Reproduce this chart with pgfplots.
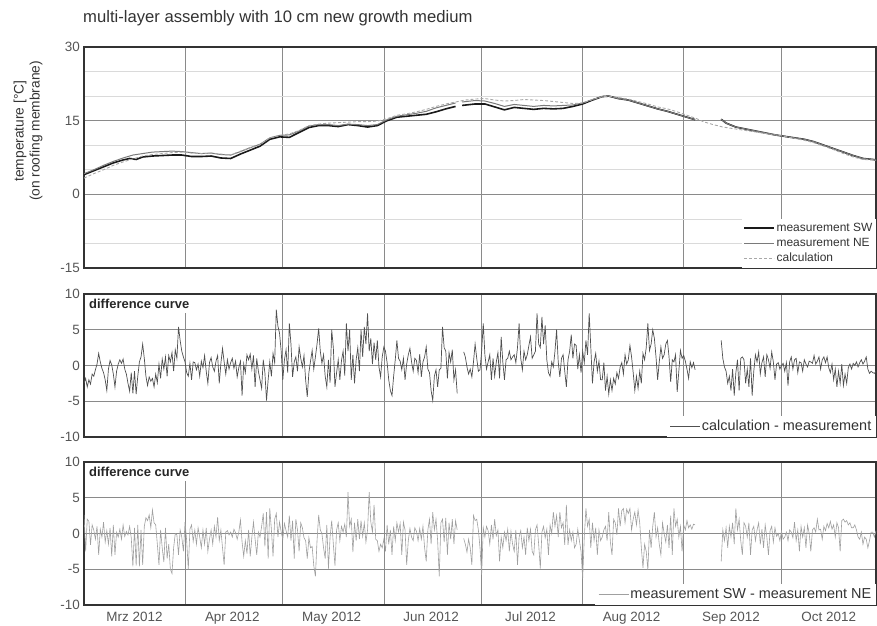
\documentclass[border=0pt]{standalone}
\usepackage{fontspec}
\setmainfont{Liberation Sans}
\usepackage{pgfplots}
\pgfplotsset{compat=1.18}
\definecolor{framec}{HTML}{333333}
\definecolor{gridc}{HTML}{8A8A8A}
\definecolor{minorc}{HTML}{DADADA}
\definecolor{ticktext}{HTML}{555555}
\definecolor{swc}{HTML}{1A1A1A}
\definecolor{nec}{HTML}{7A7A7A}
\definecolor{calcc}{HTML}{A8A8A8}
\definecolor{d1c}{HTML}{505050}
\definecolor{d2c}{HTML}{A0A0A0}
\pgfplotsset{
 panel/.style={
  scale only axis, width=792bp, anchor=south west,
  xmin=0, xmax=243,
  axis line style={draw=framec, line width=1.5bp},
  xtick={31,61,92,122,153,184,214}, xticklabels={},
  xmajorgrids, ymajorgrids,
  major grid style={draw=gridc, line width=0.7bp},
  major tick length=0pt, minor tick length=0pt,
  yticklabel style={font=\fontsize{13.5}{13.5}\selectfont, text=ticktext, inner sep=0pt, xshift=-4bp},
  /pgf/number format/assume math mode=true,
  unbounded coords=jump,
  legend cell align=left,
  legend image code/.code={\draw[##1] (0bp,0bp) -- (30bp,0bp);},
 },
}
\tikzset{difflabel/.style={anchor=north west, fill=white, font=\bfseries\fontsize{13}{13}\selectfont, text=black!85, inner sep=4bp, xshift=1bp, yshift=-1bp}}
\begin{document}
\begin{tikzpicture}
\useasboundingbox (0,0) rectangle (877bp,626bp);
\node[anchor=west, font=\fontsize{16.7}{16.7}\selectfont, text=black!80, inner sep=0pt] at (83bp,608bp) {multi-layer assembly with 10 cm new growth medium};
\node[rotate=90, align=center, font=\fontsize{13.8}{16}\selectfont, text=black!80] at (28bp,495bp) {temperature [°C]\\(on roofing membrane)};
% ---------------- top panel
\begin{axis}[panel, at={(84bp,358bp)}, height=221bp,
  ymin=-15, ymax=30, ytick={-15,0,15,30},
  minor ytick={-10,-5,5,10,20,25}, yminorgrids,
  minor grid style={draw=minorc, line width=0.6bp},
  legend style={at={(1,0)}, anchor=south east, draw=none, fill=white,
    font=\fontsize{12}{12}\selectfont, text=black!80, inner sep=2bp,
    nodes={inner sep=1.5bp, text height=9bp, text depth=3bp}},
]
\addplot[swc, line width=1.6bp] coordinates {(0,4.0)(3,4.8)(6,5.6)(9,6.4)(12,7.0)(14,7.3)(16,7.1)(18,7.6)(21,7.8)(24,7.9)(27,8.0)(30,8.0)(33,7.7)(36,7.7)(39,7.8)(42,7.4)(45,7.3)(48,8.2)(51,9.0)(54,9.8)(57,11.2)(60,11.7)(63,11.6)(66,12.6)(69,13.6)(72,14.0)(75,14.0)(78,13.8)(81,14.2)(84,14.0)(87,13.7)(90,14.0)(93,15.0)(96,15.7)(99,15.9)(102,16.1)(105,16.3)(108,16.8)(111,17.4)(114,17.9)(115,nan)(116,18.1)(120,18.4)(123,18.4)(126,17.8)(129,17.2)(132,17.7)(135,17.5)(138,17.3)(141,17.5)(144,17.4)(147,17.5)(150,17.9)(153,18.4)(156,19.2)(159,19.9)(161,20.0)(164,19.5)(167,19.2)(170,18.6)(173,18.0)(176,17.4)(179,16.9)(182,16.3)(185,15.7)(187.5,15.2)(190,nan)(195.5,15.3)(197,14.5)(200,13.7)(203,13.3)(206,12.9)(209,12.5)(212,12.1)(215,11.8)(218,11.5)(221,11.2)(224,10.7)(227,10.0)(230,9.3)(233,8.6)(236,7.9)(239,7.3)(242,7.1)(243,7.0)};
\addlegendentry{measurement SW}
\addplot[nec, line width=1bp] coordinates {(0,4.2)(3,5.0)(6,5.9)(9,6.7)(12,7.4)(15,8.0)(18,8.3)(21,8.6)(24,8.7)(27,8.8)(30,8.7)(33,8.5)(36,8.3)(39,8.4)(42,8.1)(45,8.0)(48,8.7)(51,9.5)(54,10.2)(57,11.5)(60,12.0)(63,12.1)(66,12.9)(69,13.9)(72,14.2)(75,14.2)(78,14.0)(81,14.3)(84,14.2)(87,14.0)(90,14.2)(93,15.2)(96,15.9)(99,16.2)(102,16.5)(105,16.9)(108,17.6)(111,18.1)(114,18.6)(115,nan)(116,18.8)(120,19.1)(123,19.0)(126,18.5)(129,17.9)(132,18.3)(135,18.1)(138,17.9)(141,18.1)(144,18.0)(147,18.1)(150,18.2)(153,18.6)(156,19.3)(159,19.9)(161,20.0)(164,19.5)(167,19.2)(170,18.6)(173,18.0)(176,17.4)(179,16.9)(182,16.3)(185,15.7)(187.5,15.2)(190,nan)(195.5,15.3)(197,14.5)(200,13.7)(203,13.3)(206,12.9)(209,12.5)(212,12.1)(215,11.8)(218,11.5)(221,11.2)(224,10.7)(227,10.0)(230,9.3)(233,8.6)(236,7.9)(239,7.3)(242,7.1)(243,7.0)};
\addlegendentry{measurement NE}
\addplot[calcc, line width=0.9bp, dash pattern=on 3bp off 2bp] coordinates {(0,3.3)(3,4.2)(6,5.0)(9,5.9)(12,6.6)(15,7.2)(18,7.8)(21,8.1)(24,8.3)(27,8.5)(30,8.6)(33,8.4)(36,8.3)(39,8.4)(42,8.2)(45,8.0)(48,8.8)(51,9.5)(54,10.1)(57,11.5)(60,12.0)(63,12.3)(66,13.0)(69,14.0)(72,14.3)(75,14.5)(78,14.6)(81,14.7)(84,14.8)(87,14.8)(90,14.9)(93,15.4)(96,16.1)(99,16.4)(102,16.8)(105,17.3)(108,17.9)(111,18.4)(114,18.8)(117,19.2)(120,19.4)(123,19.5)(126,19.2)(129,19.0)(132,19.1)(135,19.3)(138,19.2)(141,19.1)(144,18.9)(147,18.7)(150,18.5)(153,18.6)(156,19.3)(159,19.9)(161,20.0)(164,19.7)(167,19.4)(170,18.9)(173,18.4)(176,17.8)(179,17.4)(182,16.8)(185,16.1)(188,15.4)(190,14.8)(193,14.2)(196,13.7)(200,13.3)(203,13.0)(206,12.7)(209,12.4)(212,12.1)(215,11.8)(218,11.4)(221,11.0)(224,10.5)(227,9.8)(230,9.1)(233,8.3)(236,7.6)(239,7.1)(242,7.0)(243,6.9)};
\addlegendentry{calculation}
\end{axis}
% ---------------- middle panel
\begin{axis}[panel, at={(84bp,189bp)}, height=143bp,
  ymin=-10, ymax=10, ytick={-10,-5,0,5,10},
  legend style={at={(1,0)}, anchor=south east, draw=none, fill=white,
    font=\fontsize{14.5}{14.5}\selectfont, text=black!80, inner sep=3bp,
    nodes={inner sep=1.5bp}},
]
\addplot[d1c, line width=0.7bp] coordinates {
(0,-2.5)(0.5,-1.8)(1,-3.0)(1.5,-2.0)(2,-2.6)(2.5,-1.2)(3,-1.5)(3.5,-0.6)(4,0.2)(4.5,1.7)
(5,0.5)(5.5,-0.4)(6,-1.0)(6.5,-2.0)(7,-3.5)(7.5,-0.5)(8,0.7)(8.5,0.1)(9,-1.2)(9.5,-3.0)
(10,-0.8)(10.5,0.2)(11,0.8)(11.5,0.3)(12,0.9)(12.5,-0.5)(13,-1.2)(13.5,-2.5)(14,-3.6)(14.5,-1.0)
(15,-3.9)(15.5,-0.8)(16,-4.0)(16.5,-1.5)(17,0.5)(17.5,1.2)(18,3.0)(18.5,1.0)(19,-1.5)(19.5,-2.8)
(20,-1.6)(20.5,-2.2)(21,-1.8)(21.5,-3.0)(22,-1.2)(22.5,-2.4)(23,0.2)(23.5,-1.8)(24,0.9)(24.5,-0.5)
(25,1.2)(25.5,-1.5)(26,1.4)(26.5,0.5)(27,1.8)(27.5,-0.8)(28,2.2)(28.5,1.0)(29,5.4)(29.5,3.5)
(30,2.0)(30.5,1.2)(31,0.5)(31.5,-1.0)(32,-1.5)(32.5,0.3)(33,-2.0)(33.5,0.5)(34,0.4)(34.5,-0.6)
(35,0.2)(35.5,-1.5)(36,0.6)(36.5,-0.3)(37,1.4)(37.5,-0.8)(38,-2.5)(38.5,0.4)(39,1.1)(39.5,-0.2)
(40,-0.8)(40.5,0.6)(41,1.4)(41.5,-2.5)(42,0.3)(42.5,2.4)(43,0.5)(43.5,-1.2)(44,0.8)(44.5,-0.5)
(45,0.4)(45.5,1.0)(46,-0.4)(46.5,0.6)(47,-1.6)(47.5,-0.3)(48,0.6)(48.5,-4.2)(49,0.2)(49.5,-1.0)
(50,1.5)(50.5,0.8)(51,1.6)(51.5,-0.5)(52,1.4)(52.5,-3.0)(53,1.0)(53.5,-0.8)(54,-2.0)(54.5,-3.2)
(55,0.8)(55.5,-1.0)(56,-4.9)(56.5,-2.0)(57,0.5)(57.5,-1.5)(58,1.7)(58.5,0.4)(59,7.8)(59.5,5.5)
(60,4.5)(60.5,2.0)(61,-2.0)(61.5,0.8)(62,2.2)(62.5,-1.0)(63,5.9)(63.5,3.0)(64,-1.6)(64.5,0.5)
(65,1.2)(65.5,-0.8)(66,2.6)(66.5,1.0)(67,-0.2)(67.5,1.4)(68,-2.0)(68.5,-4.4)(69,-1.0)(69.5,0.6)
(70,2.1)(70.5,-0.5)(71,1.2)(71.5,3.0)(72,5.2)(72.5,2.0)(73,0.3)(73.5,1.5)(74,-1.5)(74.5,-3.0)
(75,0.8)(75.5,-2.4)(76,5.0)(76.5,2.5)(77,-3.0)(77.5,-1.0)(78,0.8)(78.5,-2.0)(79,0.7)(79.5,2.0)
(80,-1.4)(80.5,5.9)(81,2.0)(81.5,5.0)(82,-2.0)(82.5,1.5)(83,-2.5)(83.5,0.8)(84,2.5)(84.5,-0.8)
(85,5.0)(85.5,1.2)(86,5.4)(86.5,3.0)(87,7.3)(87.5,2.0)(88,3.8)(88.5,0.2)(89,3.2)(89.5,0.8)
(90,3.5)(90.5,-0.2)(91,-1.6)(91.5,1.2)(92,2.6)(92.5,2.0)(93,0.4)(93.5,-2.0)(94,-3.5)(94.5,-4.2)
(95,-1.5)(95.5,0.8)(96,3.5)(96.5,1.0)(97,0.6)(97.5,-0.6)(98,1.0)(98.5,-2.0)(99,0.2)(99.5,1.5)
(100,2.4)(100.5,0.5)(101,-0.8)(101.5,1.0)(102,0.7)(102.5,-1.0)(103,1.6)(103.5,-1.6)(104,0.5)(104.5,1.2)
(105,2.6)(105.5,-0.5)(106,-1.0)(106.5,-3.5)(107,-4.9)(107.5,-1.5)(108,-0.6)(108.5,-3.0)(109,-0.6)(109.5,-0.4)
(110,5.4)(110.5,2.5)(111,2.0)(111.5,-1.8)(112,1.8)(112.5,0.5)(113,2.2)(113.5,-2.0)(114,-0.6)(114.5,-3.9)
(115,nan)(116.5,1.9)(117,1.2)(117.5,-0.2)(118,-1.2)(118.5,-0.5)(119,-1.6)(119.5,0.5)
(120,3.0)(120.5,1.0)(121,-0.8)(121.5,-0.6)(122,2.0)(122.5,5.9)(123,1.5)(123.5,-0.5)(124,0.5)(124.5,1.5)
(125,-2.0)(125.5,1.0)(126,-1.5)(126.5,0.5)(127,1.8)(127.5,-1.8)(128,4.0)(128.5,0.5)(129,-2.0)(129.5,0.8)
(130,1.0)(130.5,2.0)(131,0.8)(131.5,1.2)(132,1.5)(132.5,0.4)(133,2.5)(133.5,5.9)(134,1.0)(134.5,-0.6)
(135,2.0)(135.5,0.8)(136,1.5)(136.5,2.8)(137,4.0)(137.5,1.0)(138,1.5)(138.5,2.0)(139,7.3)(139.5,3.0)
(140,2.5)(140.5,6.8)(141,3.0)(141.5,5.6)(142,0.8)(142.5,-1.0)(143,-1.5)(143.5,0.5)(144,-0.2)(144.5,2.0)
(145,5.0)(145.5,0.5)(146,-1.6)(146.5,1.0)(147,1.5)(147.5,-0.8)(148,-3.0)(148.5,0.8)(149,2.0)(149.5,4.3)
(150,1.0)(150.5,3.0)(151,2.8)(151.5,-0.5)(152,1.5)(152.5,-1.0)(153,2.0)(153.5,0.4)(154,3.5)(154.5,1.5)
(155,7.3)(155.5,2.5)(156,-2.5)(156.5,0.5)(157,1.7)(157.5,-0.8)(158,0.6)(158.5,-2.0)(159,-2.0)(159.5,0.4)
(160,-3.5)(160.5,-1.5)(161,-4.0)(161.5,-2.0)(162,-3.5)(162.5,-1.8)(163,-2.6)(163.5,-1.0)(164,-1.8)(164.5,-0.2)
(165,0.4)(165.5,-1.2)(166,1.5)(166.5,0.2)(167,0.8)(167.5,2.8)(168,1.2)(168.5,-1.0)(169,-3.5)(169.5,-1.5)
(170,-3.2)(170.5,-0.8)(171,-2.5)(171.5,1.7)(172,0.8)(172.5,2.5)(173,5.9)(173.5,2.1)(174,3.0)(174.5,5.0)
(175,3.8)(175.5,1.2)(176,-2.0)(176.5,0.5)(177,2.6)(177.5,1.0)(178,1.5)(178.5,3.0)(179,3.5)(179.5,1.2)
(180,-2.3)(180.5,0.8)(181,0.5)(181.5,1.5)(182,-3.7)(182.5,-0.8)(183,2.1)(183.5,1.0)(184,1.4)(184.5,0.6)
(185,-0.5)(185.5,-1.8)(186,0.5)(186.5,-0.3)(187,0.4)(187.5,-0.6)
(190,nan)(195.5,3.5)(196,1.0)(196.5,-0.2)(197,-0.8)(197.5,-2.5)(198,-1.5)(198.5,-3.5)(199,-0.5)(199.5,-4.2)
(200,-1.0)(200.5,0.8)(201,-3.5)(201.5,1.0)(202,1.2)(202.5,0.8)(203,-2.5)(203.5,-0.5)(204,-3.0)(204.5,1.0)
(205,-4.2)(205.5,-0.8)(206,1.5)(206.5,0.5)(207,1.9)(207.5,-1.2)(208,0.4)(208.5,1.2)(209,-1.6)(209.5,1.5)
(210,0.8)(210.5,-0.4)(211,1.9)(211.5,0.5)(212,-2.0)(212.5,0.2)(213,0.4)(213.5,-0.5)(214,0.0)(214.5,0.3)
(215,-0.8)(215.5,0.4)(216,-2.8)(216.5,0.5)(217,1.2)(217.5,-0.5)(218,0.8)(218.5,1.0)(219,-1.0)(219.5,0.5)
(220,0.4)(220.5,-0.8)(221,0.8)(221.5,0.2)(222,-0.2)(222.5,0.6)(223,0.5)(223.5,0.3)(224,1.4)(224.5,0.2)
(225,0.6)(225.5,1.2)(226,-0.5)(226.5,0.8)(227,1.2)(227.5,0.4)(228,1.2)(228.5,-0.3)(229,-1.0)(229.5,0.2)
(230,-2.0)(230.5,-0.5)(231,-3.0)(231.5,-0.8)(232,-2.5)(232.5,0.2)(233,-2.8)(233.5,-1.2)(234,-2.5)(234.5,-0.3)
(235,0.2)(235.5,-0.5)(236,0.3)(236.5,0.0)(237,0.5)(237.5,-0.2)(238,0.4)(238.5,0.8)(239,0.2)(239.5,0.6)
(240,1.2)(240.5,-0.5)(241,-1.1)(241.5,-0.8)(242,-1.0)(242.5,-1.1)(243,-0.8)};
\addlegendentry{calculation - measurement}
\node[difflabel] at (rel axis cs:0,1) {difference curve};
\end{axis}
% ---------------- bottom panel
\begin{axis}[panel, at={(84bp,21bp)}, height=143bp,
  ymin=-10, ymax=10, ytick={-10,-5,0,5,10},
  extra x ticks={15.5,45.5,76,106.5,137,168,198.5,228.5},
  extra x tick labels={Mrz 2012,Apr 2012,May 2012,Jun 2012,Jul 2012,Aug 2012,Sep 2012,Oct 2012},
  extra x tick style={grid=none},
  xticklabel style={font=\fontsize{13.5}{13.5}\selectfont, text=ticktext, inner sep=0pt, yshift=-7bp},
  legend style={at={(1,0)}, anchor=south east, draw=none, fill=white,
    font=\fontsize{14.5}{14.5}\selectfont, text=black!80, inner sep=3bp,
    nodes={inner sep=1.5bp}},
]
\addplot[d2c, line width=0.6bp] coordinates {
(0,2.6)(0.5,-2.5)(1,2.0)(1.5,1.7)(2,-1.6)(2.5,1.2)(3,0.5)(3.5,-0.8)(4,1.0)(4.5,-3.0)
(5,0.6)(5.5,-0.5)(6,1.6)(6.5,-1.2)(7,0.4)(7.5,-1.5)(8,0.8)(8.5,-3.2)(9,1.2)(9.5,-3.0)
(10,0.2)(10.5,-0.5)(11,0.6)(11.5,-0.8)(12,1.2)(12.5,-0.4)(13,0.3)(13.5,-0.2)(14,1.0)(14.5,-0.6)
(15,-4.6)(15.5,0.8)(16,-4.5)(16.5,1.2)(17,-4.6)(17.5,0.5)(18,-4.4)(18.5,1.0)(19,2.2)(19.5,1.8)
(20,2.6)(20.5,0.8)(21,3.3)(21.5,1.5)(22,1.2)(22.5,-1.5)(23,-4.4)(23.5,0.5)(24,-2.0)(24.5,-4.0)
(25,0.8)(25.5,-3.5)(26,-1.5)(26.5,-5.0)(27,-5.6)(27.5,-2.0)(28,0.0)(28.5,-0.2)(29,-3.0)(29.5,0.5)
(30,-0.5)(30.5,-2.5)(31,1.6)(31.5,-1.0)(32,-5.0)(32.5,0.6)(33,1.2)(33.5,-1.1)(34,0.5)(34.5,-1.5)
(35,0.8)(35.5,-0.5)(36,-2.0)(36.5,0.5)(37,-1.5)(37.5,0.8)(38,-2.5)(38.5,-0.8)(39,0.5)(39.5,-1.5)
(40,1.0)(40.5,-0.5)(41,2.3)(41.5,-1.0)(42,0.5)(42.5,-2.0)(43,-4.4)(43.5,0.2)(44,0.4)(44.5,-0.2)
(45,0.2)(45.5,-0.5)(46,0.6)(46.5,0.1)(47,-0.8)(47.5,0.2)(48,1.9)(48.5,-1.2)(49,-3.2)(49.5,-1.0)
(50,-2.8)(50.5,0.5)(51,-3.2)(51.5,-0.5)(52,1.6)(52.5,-0.8)(53,-3.0)(53.5,0.2)(54,-0.5)(54.5,1.0)
(55,2.8)(55.5,-1.8)(56,3.0)(56.5,-3.5)(57,3.5)(57.5,0.5)(58,-3.2)(58.5,2.0)(59,2.8)(59.5,-0.5)
(60,1.6)(60.5,0.2)(61,-0.8)(61.5,1.4)(62,0.4)(62.5,-0.5)(63,2.5)(63.5,-1.0)(64,1.8)(64.5,-3.5)
(65,2.0)(65.5,0.5)(66,-2.5)(66.5,1.5)(67,0.8)(67.5,-0.6)(68,-1.0)(68.5,-3.5)(69,-0.6)(69.5,-2.0)
(70,-1.8)(70.5,-4.5)(71,-6.0)(71.5,-1.0)(72,2.6)(72.5,0.5)(73,0.0)(73.5,-2.0)(74,-3.5)(74.5,1.2)
(75,-4.9)(75.5,-0.5)(76,1.8)(76.5,-1.5)(77,-4.5)(77.5,0.5)(78,1.5)(78.5,-1.0)(79,1.0)(79.5,0.2)
(80,1.3)(80.5,-0.5)(81,5.8)(81.5,1.0)(82,2.0)(82.5,-2.6)(83,1.5)(83.5,-1.0)(84,2.0)(84.5,-0.8)
(85,1.8)(85.5,-0.4)(86,1.5)(86.5,-1.2)(87,0.5)(87.5,5.8)(88,1.6)(88.5,0.2)(89,4.0)(89.5,-0.8)
(90,-1.0)(90.5,-2.5)(91,-1.5)(91.5,-2.0)(92,-0.8)(92.5,-2.5)(93,1.2)(93.5,-1.5)(94,0.5)(94.5,-3.0)
(95,1.0)(95.5,-1.0)(96,1.5)(96.5,0.2)(97,1.4)(97.5,-3.0)(98,1.6)(98.5,0.5)(99,-4.4)(99.5,-1.0)
(100,0.7)(100.5,-0.5)(101,-1.0)(101.5,0.8)(102,0.3)(102.5,-1.0)(103,0.7)(103.5,-0.8)(104,1.0)(104.5,-2.0)
(105,-3.9)(105.5,0.5)(106,2.0)(106.5,-1.5)(107,3.0)(107.5,0.5)(108,2.0)(108.5,-1.0)(109,-6.0)(109.5,1.5)
(110,2.0)(110.5,-1.2)(111,2.2)(111.5,-3.0)(112,1.5)(112.5,-0.8)(113,2.0)(113.5,-1.5)(114,1.8)(114.5,0.5)
(115,nan)(116.5,-0.7)(117,-1.5)(117.5,-2.6)(118,-0.8)(118.5,-2.0)(119,-4.4)(119.5,2.5)
(120,1.8)(120.5,2.0)(121,0.5)(121.5,-2.0)(122,-5.8)(122.5,0.8)(123,-0.5)(123.5,1.0)(124,0.4)(124.5,-1.5)
(125,1.2)(125.5,-0.8)(126,2.0)(126.5,-0.3)(127,0.5)(127.5,-3.9)(128,-0.5)(128.5,-2.0)(129,0.2)(129.5,-1.0)
(130,0.6)(130.5,-2.5)(131,0.3)(131.5,-1.5)(132,-2.5)(132.5,0.5)(133,-4.4)(133.5,-0.5)(134,0.4)(134.5,-2.0)
(135,-0.5)(135.5,-3.0)(136,0.8)(136.5,-1.0)(137,0.6)(137.5,-2.5)(138,-3.0)(138.5,0.5)(139,1.2)(139.5,-1.5)
(140,-4.9)(140.5,0.2)(141,1.0)(141.5,-0.6)(142,0.6)(142.5,-3.0)(143,1.2)(143.5,0.0)(144,3.0)(144.5,1.0)
(145,2.5)(145.5,-0.5)(146,3.0)(146.5,0.8)(147,1.5)(147.5,-1.6)(148,4.0)(148.5,-1.6)(149,0.5)(149.5,-1.0)
(150,0.2)(150.5,-2.0)(151,-1.5)(151.5,0.6)(152,-1.0)(152.5,-2.5)(153,-6.3)(153.5,-0.5)(154,3.5)(154.5,1.0)
(155,2.0)(155.5,-2.0)(156,1.5)(156.5,-1.0)(157,0.8)(157.5,-3.0)(158,0.5)(158.5,-1.0)(159,-0.5)(159.5,0.5)
(160,1.0)(160.5,-1.0)(161,3.0)(161.5,-1.2)(162,-3.0)(162.5,2.0)(163,1.5)(163.5,-0.2)(164,3.5)(164.5,1.0)
(165,3.2)(165.5,3.5)(166,1.5)(166.5,3.4)(167,2.8)(167.5,3.5)(168,0.5)(168.5,2.0)(169,3.0)(169.5,1.2)
(170,3.3)(170.5,1.5)(171,-2.0)(171.5,-4.8)(172,-1.5)(172.5,-2.5)(173,-5.1)(173.5,0.5)(174,-2.0)(174.5,1.0)
(175,3.0)(175.5,-0.5)(176,0.8)(176.5,-1.5)(177,-3.0)(177.5,1.5)(178,0.0)(178.5,-1.2)(179,1.2)(179.5,-2.0)
(180,2.5)(180.5,-3.0)(181,3.5)(181.5,1.0)(182,2.0)(182.5,-0.5)(183,1.0)(183.5,-2.5)(184,1.2)(184.5,0.5)
(185,1.8)(185.5,0.8)(186,1.2)(186.5,0.6)(187,1.3)(187.5,1.2)
(190,nan)(195.5,-3.9)(196,0.5)(196.5,-1.0)(197,0.8)(197.5,-2.0)(198,1.0)(198.5,-0.5)(199,1.5)(199.5,-1.5)
(200,3.5)(200.5,0.5)(201,2.0)(201.5,-1.0)(202,-3.0)(202.5,1.5)(203,1.0)(203.5,-0.5)(204,1.5)(204.5,-3.0)
(205,0.5)(205.5,1.0)(206,-1.0)(206.5,0.5)(207,1.5)(207.5,-1.5)(208,0.6)(208.5,-2.0)(209,1.2)(209.5,-0.5)
(210,-3.0)(210.5,0.4)(211,1.0)(211.5,-1.2)(212,0.8)(212.5,-0.4)(213,0.0)(213.5,-1.0)(214,0.3)(214.5,-0.8)
(215,-0.5)(215.5,0.2)(216,-1.0)(216.5,0.5)(217,0.2)(217.5,-0.6)(218,1.6)(218.5,-1.0)(219,0.5)(219.5,-2.5)
(220,1.0)(220.5,-0.5)(221,0.8)(221.5,-2.0)(222,1.2)(222.5,0.0)(223,-2.5)(223.5,0.5)(224,0.8)(224.5,0.2)
(225,2.0)(225.5,0.5)(226,0.6)(226.5,-0.8)(227,1.0)(227.5,0.4)(228,1.4)(228.5,0.8)(229,1.7)(229.5,0.6)
(230,1.2)(230.5,-0.5)(231,1.5)(231.5,0.8)(232,-2.5)(232.5,1.8)(233,2.0)(233.5,1.6)(234,1.8)(234.5,1.2)
(235,1.5)(235.5,0.8)(236,0.8)(236.5,1.2)(237,0.5)(237.5,-0.5)(238,-0.8)(238.5,0.2)(239,-1.5)(239.5,-0.5)
(240,-0.8)(240.5,-2.0)(241,-1.0)(241.5,0.2)(242,0.2)(242.5,-0.5)(243,0.4)};
\addlegendentry{measurement SW - measurement NE}
\node[difflabel] at (rel axis cs:0,1) {difference curve};
\end{axis}
\end{tikzpicture}
\end{document}
